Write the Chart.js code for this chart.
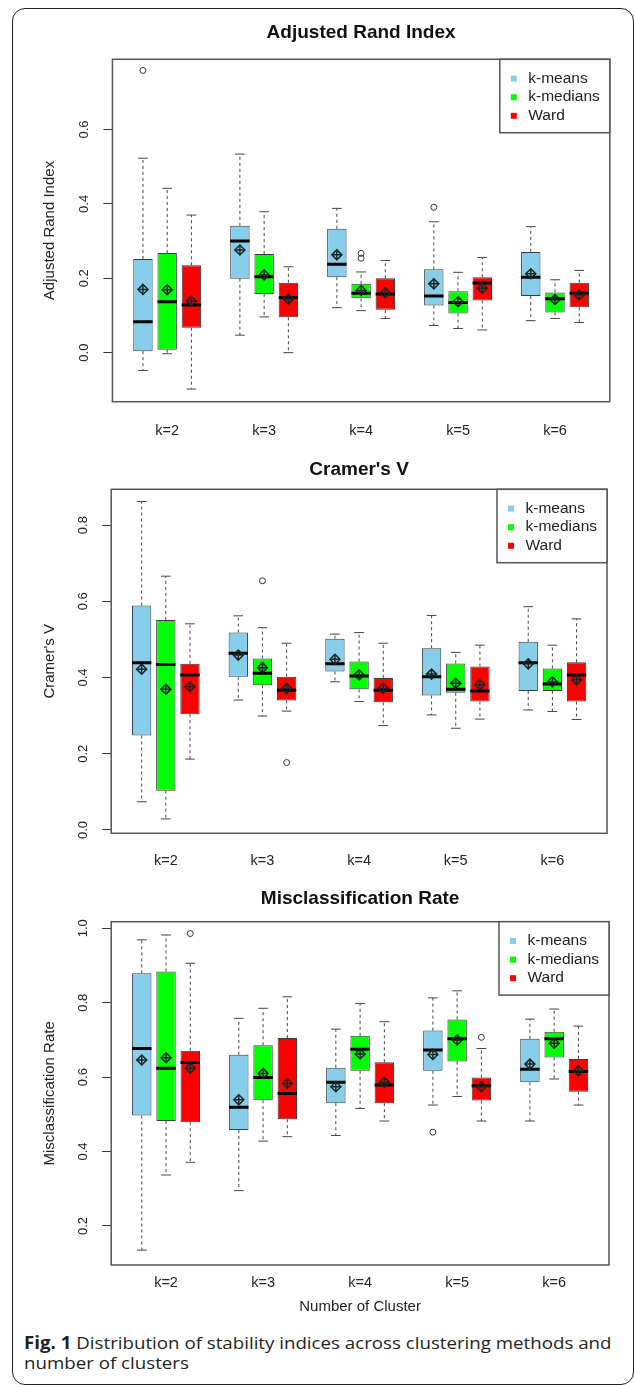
<!DOCTYPE html>
<html>
<head>
<meta charset="utf-8">
<script src="https://cdn.jsdelivr.net/npm/chart.js@4.4.1/dist/chart.umd.min.js"></script>
<style>
  html, body { margin: 0; padding: 0; background: #fff; }
  body { width: 634px; height: 1385px; position: relative; overflow: hidden; }
  .frame { position: absolute; left: 12px; top: 8px; width: 622px; height: 1377px; box-sizing: border-box;
           border: 1.5px solid #222; border-radius: 13px; }
  canvas { position: absolute; left: 0; }
  .caption { position: absolute; left: 24px; top: 1333px; font-family: "Open Sans", sans-serif; font-size: 17px;
             line-height: 20px; color: #231f20; white-space: nowrap; transform: scaleX(1.1); transform-origin: 0 0; }
</style>
</head>
<body>
<div class="frame"></div>
<canvas id="ari"></canvas>
<canvas id="cv"></canvas>
<canvas id="mr"></canvas>
<div class="caption"><b>Fig. 1</b> Distribution of stability indices across clustering methods and<br>number of clusters</div>
<script>
const kLabels = ['k=2', 'k=3', 'k=4', 'k=5', 'k=6'];
const methods = ['k-means', 'k-medians', 'Ward'];

// one row per k: [lower whisker, Q1, median, Q3, upper whisker, mean]
const ariKMeans = [
  [-0.048, 0.004, 0.083, 0.252, 0.523, 0.170],
  [0.047, 0.199, 0.300, 0.341, 0.534, 0.276],
  [0.121, 0.203, 0.238, 0.333, 0.388, 0.263],
  [0.073, 0.127, 0.152, 0.224, 0.352, 0.185],
  [0.086, 0.152, 0.203, 0.271, 0.339, 0.212]
];
const ariKMedians = [
  [-0.003, 0.008, 0.137, 0.268, 0.442, 0.169],
  [0.096, 0.158, 0.204, 0.265, 0.379, 0.209],
  [0.113, 0.146, 0.160, 0.185, 0.217, 0.167],
  [0.065, 0.105, 0.135, 0.165, 0.216, 0.137],
  [0.092, 0.108, 0.145, 0.162, 0.196, 0.143]
];
const ariWard = [
  [-0.098, 0.067, 0.128, 0.235, 0.370, 0.139],
  [0.000, 0.095, 0.148, 0.188, 0.231, 0.144],
  [0.092, 0.115, 0.158, 0.200, 0.248, 0.161],
  [0.061, 0.140, 0.187, 0.203, 0.256, 0.173],
  [0.081, 0.122, 0.160, 0.188, 0.221, 0.155]
];
// outliers: [method, k index, value]
const ariOutliers = [[0, 0, 0.759], [0, 3, 0.391], [1, 2, 0.267], [1, 2, 0.254]];
const ariTicks = [0, 0.2, 0.4, 0.6];

const cvKMeans = [
  [0.074, 0.248, 0.439, 0.589, 0.862, 0.422],
  [0.341, 0.402, 0.464, 0.518, 0.562, 0.459],
  [0.389, 0.416, 0.436, 0.502, 0.514, 0.448],
  [0.302, 0.353, 0.402, 0.477, 0.563, 0.409],
  [0.315, 0.365, 0.439, 0.494, 0.586, 0.436]
];
const cvKMedians = [
  [0.029, 0.103, 0.434, 0.551, 0.666, 0.369],
  [0.299, 0.380, 0.411, 0.450, 0.531, 0.426],
  [0.337, 0.369, 0.404, 0.442, 0.518, 0.407],
  [0.267, 0.360, 0.369, 0.437, 0.466, 0.385],
  [0.311, 0.365, 0.383, 0.424, 0.485, 0.389]
];
const cvWard = [
  [0.186, 0.304, 0.407, 0.436, 0.541, 0.376],
  [0.312, 0.340, 0.367, 0.402, 0.490, 0.371],
  [0.274, 0.335, 0.367, 0.399, 0.490, 0.372],
  [0.291, 0.337, 0.365, 0.429, 0.485, 0.381],
  [0.290, 0.337, 0.407, 0.440, 0.554, 0.394]
];
const cvOutliers = [[1, 1, 0.654], [2, 1, 0.177]];
const cvTicks = [0, 0.2, 0.4, 0.6, 0.8];

const mrKMeans = [
  [0.135, 0.497, 0.677, 0.879, 0.969, 0.646],
  [0.295, 0.458, 0.519, 0.660, 0.758, 0.539],
  [0.443, 0.530, 0.586, 0.625, 0.729, 0.574],
  [0.525, 0.617, 0.673, 0.725, 0.813, 0.661],
  [0.482, 0.586, 0.621, 0.703, 0.756, 0.635]
];
const mrKMedians = [
  [0.337, 0.482, 0.624, 0.884, 0.982, 0.652],
  [0.428, 0.538, 0.599, 0.686, 0.785, 0.610],
  [0.516, 0.617, 0.675, 0.711, 0.798, 0.662],
  [0.548, 0.642, 0.703, 0.755, 0.832, 0.700],
  [0.595, 0.653, 0.703, 0.722, 0.783, 0.691]
];
const mrWard = [
  [0.371, 0.479, 0.639, 0.671, 0.906, 0.624],
  [0.440, 0.487, 0.556, 0.705, 0.816, 0.583],
  [0.482, 0.530, 0.579, 0.640, 0.749, 0.586],
  [0.482, 0.537, 0.577, 0.599, 0.677, 0.574],
  [0.525, 0.561, 0.615, 0.649, 0.737, 0.617]
];
const mrOutliers = [[2, 0, 0.986], [0, 3, 0.452], [2, 3, 0.707]];
const mrTicks = [0.2, 0.4, 0.6, 0.8, 1.0];

const fillColors = ['#87ceeb', '#00ff00', '#ff0000'];

Chart.defaults.font.family = '"Liberation Sans", Arial, sans-serif';

// layout of each panel (canvas top/height, plot area edges, axis limits)
const panels = [
  { id: 'ari', top: 0, height: 445, title: 'Adjusted Rand Index', yTitle: 'Adjusted Rand Index',
    stats: [ariKMeans, ariKMedians, ariWard], outliers: ariOutliers, ticks: ariTicks,
    yMin: -0.132, yMax: 0.789, left: 112.4, right: 609.8, titleTop: 21.6, titleBottom: 14.9,
    bottom: 401.7, labelPad: 20.3 },
  { id: 'cv', top: 445, height: 430, title: "Cramer's V", yTitle: "Cramer's V",
    stats: [cvKMeans, cvKMedians, cvWard], outliers: cvOutliers, ticks: cvTicks,
    yMin: -0.0087, yMax: 0.894, left: 111.2, right: 607, titleTop: 13.6, titleBottom: 7.9,
    bottom: 388.3, labelPad: 18.7 },
  { id: 'mr', top: 875, height: 445, title: 'Misclassification Rate', yTitle: 'Misclassification Rate',
    xTitle: 'Number of Cluster',
    stats: [mrKMeans, mrKMedians, mrWard], outliers: mrOutliers, ticks: mrTicks,
    yMin: 0.0951, yMax: 1.0177, left: 111.2, right: 609, titleTop: 12.6, titleBottom: 11.3,
    bottom: 390, labelPad: 9.6 }
];

const xMin = -0.26, xMax = 20.26;
const slotX = (k, m) => 4 * k + m + 1;
const groupX = kLabels.map((_, k) => 4 * k + 2);
const slotPx = c => {
  const s = c.chart.scales.x;
  return s.getPixelForValue(1) - s.getPixelForValue(0);
};

// box outline + legend, like R's box() and legend()
const framePlugin = {
  id: 'rframe',
  afterDraw(chart) {
    const { ctx, chartArea: a } = chart;
    ctx.save();
    ctx.lineWidth = 1.5;
    ctx.strokeStyle = '#555';
    ctx.strokeRect(a.left, a.top, a.width, a.height);
    const lw = 110, lh = 73.4, lx = a.right - lw, ly = a.top;
    ctx.fillStyle = '#fff';
    ctx.fillRect(lx, ly, lw, lh);
    ctx.strokeRect(lx, ly, lw, lh);
    ctx.font = '15.5px "Liberation Sans", Arial, sans-serif';
    ctx.textBaseline = 'middle';
    methods.forEach((name, i) => {
      const y = ly + 19.3 + i * 18.6;
      ctx.fillStyle = fillColors[i];
      ctx.fillRect(lx + 11, y - 3, 6, 6);
      ctx.fillStyle = '#222';
      ctx.fillText(name, lx + 28.5, y);
    });
    ctx.restore();
  }
};

function buildDatasets(stats, outliers) {
  const sets = stats.map((rows, m) => ({
    type: 'bar', label: methods[m], order: 3,
    data: rows.map((r, k) => ({ x: slotX(k, m), y: [r[1], r[3]] })),
    backgroundColor: fillColors[m], borderColor: '#3a3a3a', borderWidth: 1, borderSkipped: false,
    grouped: false, categoryPercentage: 0.8, barPercentage: 1
  }));
  const whiskers = [], caps = [], medians = [], means = [];
  stats.forEach((rows, m) => rows.forEach((r, k) => {
    const x = slotX(k, m);
    whiskers.push({ x, y: r[3] }, { x, y: r[4] }, { x, y: null }, { x, y: r[1] }, { x, y: r[0] }, { x, y: null });
    caps.push({ x, y: r[0] }, { x, y: r[4] });
    medians.push({ x, y: r[2] });
    means.push({ x, y: r[5] });
  }));
  sets.push(
    { type: 'line', data: whiskers, order: 4, borderColor: '#444', borderWidth: 1, borderDash: [3, 3],
      pointRadius: 0, fill: false, spanGaps: false },
    { type: 'scatter', data: caps, order: 4, pointStyle: 'line', pointRadius: c => 0.2 * slotPx(c),
      pointBorderColor: '#444', pointBorderWidth: 1 },
    { type: 'scatter', data: medians, order: 1, pointStyle: 'line', pointRadius: c => 0.4 * slotPx(c),
      pointBorderColor: '#000', pointBorderWidth: 3 },
    { type: 'scatter', data: means, order: 0, pointStyle: 'rectRot', pointRadius: 5,
      pointBorderColor: '#1a2626', pointBackgroundColor: 'rgba(0,0,0,0)', pointBorderWidth: 1.5 },
    { type: 'scatter', data: means, order: 0, pointStyle: 'cross', pointRadius: 5,
      pointBorderColor: '#1a2626', pointBorderWidth: 1.5 },
    { type: 'scatter', data: outliers.map(([m, k, v]) => ({ x: slotX(k, m), y: v })), order: 2,
      pointStyle: 'circle', pointRadius: 3, pointBorderColor: '#333',
      pointBackgroundColor: 'rgba(0,0,0,0)', pointBorderWidth: 1 }
  );
  return sets;
}

panels.forEach(p => {
  const canvas = document.getElementById(p.id);
  canvas.width = 634;
  canvas.height = p.height;
  canvas.style.top = p.top + 'px';
  new Chart(canvas, {
    type: 'bar',
    data: { datasets: buildDatasets(p.stats, p.outliers) },
    options: {
      responsive: false,
      animation: false,
      devicePixelRatio: 1,
      events: [],
      layout: { padding: { left: 0, right: 634 - p.right, top: 0, bottom: 0 } },
      plugins: {
        legend: { display: false },
        tooltip: { enabled: false },
        title: {
          display: true, text: p.title, fullSize: false, color: '#111',
          font: { size: 19, weight: 'bold' },
          padding: { top: p.titleTop, bottom: p.titleBottom }
        }
      },
      scales: {
        x: {
          type: 'linear', min: xMin, max: xMax, offset: false,
          afterBuildTicks: s => { s.ticks = groupX.map(v => ({ value: v })); },
          afterFit: s => { s.height = p.height - p.bottom; },
          border: { display: false },
          grid: { display: false, drawTicks: false },
          ticks: {
            autoSkip: false, minRotation: 0, maxRotation: 0, padding: p.labelPad,
            color: '#222', font: { size: 14.5 },
            callback: v => kLabels[groupX.indexOf(v)]
          },
          title: {
            display: !!p.xTitle, text: p.xTitle || '', color: '#222', font: { size: 15 },
            padding: { top: 0, bottom: 4.3 }
          }
        },
        y: {
          type: 'linear', min: p.yMin, max: p.yMax,
          afterBuildTicks: s => { s.ticks = p.ticks.map(v => ({ value: v })); },
          afterFit: s => { s.width = p.left; },
          border: { display: false },
          grid: { drawOnChartArea: false, drawTicks: true, tickLength: 9, color: '#333', lineWidth: 1 },
          ticks: {
            minRotation: 90, maxRotation: 90, crossAlign: 'center', padding: 10,
            color: '#222', font: { size: 13 },
            callback: v => v.toFixed(1)
          },
          title: {
            display: true, text: p.yTitle, color: '#222', font: { size: 15 },
            padding: { top: 41, bottom: 0 }
          }
        }
      }
    },
    plugins: [framePlugin]
  });
});
</script>
</body>
</html>
